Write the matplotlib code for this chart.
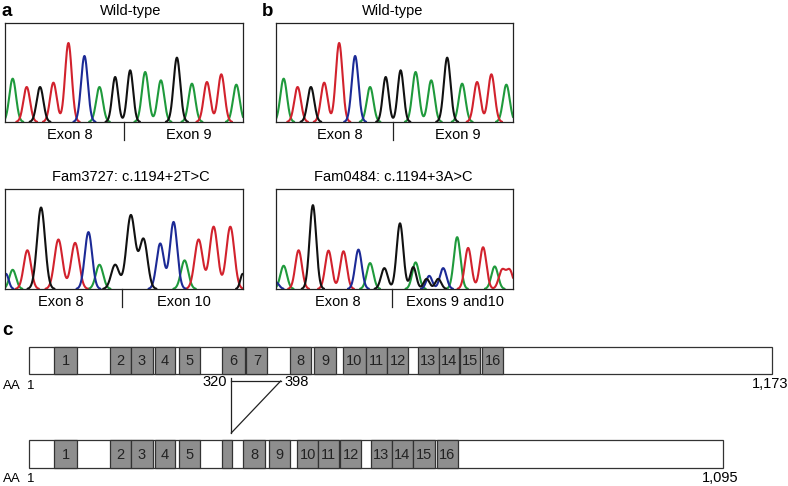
import numpy as np
import matplotlib.pyplot as plt
from matplotlib.patches import Rectangle

plt.rcParams['font.family'] = ['Liberation Sans', 'DejaVu Sans']

W, H = 788, 486

# --- chromatogram peaks: base call, position (scan units), height, width ---
wt_bases = list("ATGTTCAGGAAGATTA")
wt_pos = [23, 65, 105, 145, 190, 238, 283, 330, 375, 420, 467, 515, 560, 605, 648, 693]
wt_height = [130, 105, 105, 118, 237, 198, 105, 135, 155, 150, 125, 193, 115, 120, 143, 112]
wt_width = [10, 10, 10, 10, 10, 10, 10, 9, 9, 10, 10, 10, 10, 10, 10, 10]

fam3727_bases = list("CATGTTCAGGGCCATTTG")
fam3727_pos = [3, 23, 67, 108, 160, 210, 250, 283, 330, 377, 415, 465, 505, 538, 580, 625, 675, 712]
fam3727_height = [45, 57, 115, 242, 147, 137, 169, 72, 72, 219, 147, 135, 199, 85, 147, 185, 185, 45]
fam3727_width = [8, 10, 11, 12, 12, 12, 11, 11, 12, 13, 12, 11, 11, 11, 12, 12, 12, 7]

fam0484_bases = list("CATGTTCAGGGAGCGCATTATT")
fam0484_pos = [0, 23, 68, 111, 158, 203, 248, 283, 326, 373, 413, 420, 453, 461, 488, 503,
               545, 578, 623, 658, 680, 703]
fam0484_height = [20, 69, 115, 249, 114, 112, 117, 77, 62, 195, 65, 79, 30, 39, 30, 62,
                  154, 122, 124, 67, 55, 55]
fam0484_width = [9, 10, 10, 10, 10, 10, 10, 10, 10, 10, 9, 10, 9, 9, 9, 10,
                 10, 10, 10, 10, 10, 10]

# --- protein domains (amino acids) ---
full_len = 1173
full_start = [41, 129, 162, 199, 237, 306, 344, 412, 451, 497, 532, 566, 614, 647, 681, 716]
full_end = [76, 162, 196, 232, 270, 341, 377, 446, 486, 532, 565, 599, 647, 680, 713, 749]
full_labels = [str(i) for i in range(1, 17)]

del_len = 1095
del_start = [41, 129, 162, 199, 237, 306, 339, 379, 424, 457, 492, 541, 573, 607, 645]
del_end = [76, 162, 196, 232, 270, 321, 374, 412, 457, 490, 525, 573, 606, 642, 677]
del_labels = ["1", "2", "3", "4", "5", "", "8", "9", "10", "11", "12", "13", "14", "15", "16"]

deletion = (320, 398)

colors = {'A': '#1f9a3c', 'T': '#d2222d', 'G': '#111111', 'C': '#1c2a96'}

fig = plt.figure(figsize=(W / 100, H / 100), dpi=100)

# full-figure axes for panel c: x in amino acids, y in pixels
s = (full_len - 1) / (772 - 29)
axc = fig.add_axes([0, 0, 1, 1])
axc.set_xlim(1 - 29 * s, 1 + (W - 29) * s)
axc.set_ylim(H, 0)
axc.axis('off')


def protein(y0, y1, length, starts, ends, labels):
    axc.add_patch(Rectangle((1, y0), length - 1, y1 - y0, facecolor='white',
                            edgecolor='#333333', lw=0.9))
    for a, b, lab in zip(starts, ends, labels):
        axc.add_patch(Rectangle((a, y0), b - a, y1 - y0, facecolor='#8e8e8e',
                                edgecolor='#333333', lw=0.9))
        if lab:
            axc.text((a + b) / 2, (y0 + y1) / 2 + 0.5, lab, ha='center', va='center',
                     fontsize=10.5, color='#222222')


protein(347, 374, full_len, full_start, full_end, full_labels)
protein(440, 468, del_len, del_start, del_end, del_labels)

axc.text(-40, 386, "AA", ha='left', va='center', fontsize=9.5)
axc.text(3, 386, "1", ha='center', va='center', fontsize=9.5)
axc.text(-40, 479, "AA", ha='left', va='center', fontsize=9.5)
axc.text(3, 479, "1", ha='center', va='center', fontsize=9.5)
axc.text(full_len - 3, 384, "1,173", ha='center', va='center', fontsize=10.5)
axc.text(del_len - 3, 478, "1,095", ha='center', va='center', fontsize=10.5)

d0, d1 = deletion
axc.plot([d0, d0], [378, 433], color='#222222', lw=0.9)
axc.plot([d0, d1], [381, 381], color='#222222', lw=0.9)
axc.plot([d1, d0], [381, 433], color='#222222', lw=0.9)
axc.text(d0 - 6, 382, str(d0), ha='right', va='center', fontsize=10.5)
axc.text(d1 + 6, 382, str(d1), ha='left', va='center', fontsize=10.5)


def trace(box, bases, pos, height, width, title, title_x, div, lab1, lab1_x, lab2, lab2_x):
    x0, y0, x1, y1 = box
    ax = fig.add_axes([x0 / W, 1 - y1 / H, (x1 - x0) / W, (y1 - y0) / H])
    xs = np.linspace(-10, 725, 3000)
    for b in ['A', 'T', 'C', 'G']:
        y = np.zeros_like(xs)
        for bb, p, h, w in zip(bases, pos, height, width):
            if bb == b:
                y += h * np.exp(-(xs - p) ** 2 / (2 * w ** 2))
        y[y < 0.8] = np.nan
        ax.plot(xs, y, color=colors[b], lw=1.5, solid_capstyle='round')
    ax.set_xlim(0, 713)
    ax.set_ylim(0, 297)
    ax.set_xticks([])
    ax.set_yticks([])
    for sp in ax.spines.values():
        sp.set_linewidth(0.9)
        sp.set_color('#222222')
    tr = ax.get_xaxis_transform()
    ax.plot([div, div], [0, -0.18], transform=tr, color='#222222', lw=0.9, clip_on=False)
    ax.text(lab1_x, -0.13, lab1, transform=tr, ha='center', va='center', fontsize=10.5)
    ax.text(lab2_x, -0.13, lab2, transform=tr, ha='center', va='center', fontsize=10.5)
    fig.text(title_x / W, 1 - (y0 - 12) / H, title, ha='center', va='center', fontsize=10.5)
    return ax


trace((5, 23, 243, 122), wt_bases, wt_pos, wt_height, wt_width,
      "Wild-type", 131, 357, "Exon 8", 195, "Exon 9", 552)
trace((276, 23, 513, 122), wt_bases, wt_pos, wt_height, wt_width,
      "Wild-type", 393, 351, "Exon 8", 193, "Exon 9", 546)
trace((5, 189, 243, 289), fam3727_bases, fam3727_pos, fam3727_height, fam3727_width,
      "Fam3727: c.1194+2T>C", 131, 350, "Exon 8", 167, "Exon 10", 535)
trace((276, 189, 513, 289), fam0484_bases, fam0484_pos, fam0484_height, fam0484_width,
      "Fam0484: c.1194+3A>C", 393, 348, "Exon 8", 185, "Exons 9 and10", 540)

fig.text(1 / W, 1 - 11 / H, "a", ha='left', va='center', fontsize=13.5, fontweight='bold')
fig.text(262 / W, 1 - 11 / H, "b", ha='left', va='center', fontsize=13.5, fontweight='bold')
fig.text(2 / W, 1 - 330 / H, "c", ha='left', va='center', fontsize=13.5, fontweight='bold')

fig.savefig("out.png", dpi=100)
